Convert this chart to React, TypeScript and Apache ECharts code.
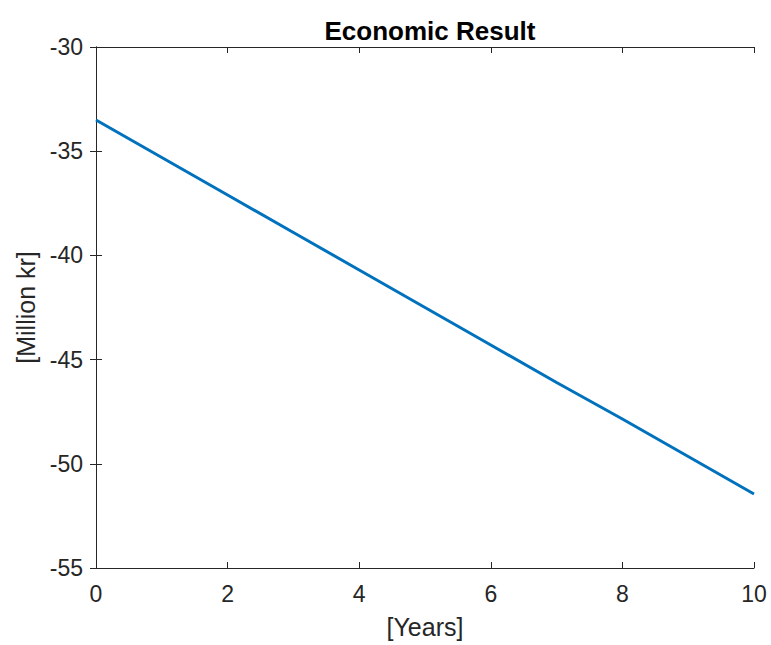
import React, { useEffect, useRef } from "react";
import * as echarts from "echarts";

// Yearly economic result, million kr
const years = [0, 1, 2, 3, 4, 5, 6, 7, 8, 9, 10];
const result = [-33.5, -35.3, -37.1, -38.9, -40.7, -42.5, -44.3, -46.1, -47.85, -49.65, -51.45];
const xTicks = [0, 2, 4, 6, 8, 10];
const yTicks = [-55, -50, -45, -40, -35, -30];

const AXIS_COLOR = "#262626";
const FONT = "Helvetica, Arial, 'Liberation Sans', sans-serif";

export default function App() {
  const ref = useRef<HTMLDivElement>(null);

  useEffect(() => {
    if (!ref.current) return;
    const chart = echarts.init(ref.current, null, { renderer: "svg" });
    const axisLabel = { color: AXIS_COLOR, fontSize: 23, fontFamily: FONT };
    const nameStyle = { color: AXIS_COLOR, fontSize: 25, fontFamily: FONT };
    const baseX = {
      type: "value" as const,
      min: xTicks[0],
      max: xTicks[xTicks.length - 1],
      interval: 2,
      axisLine: { show: true, lineStyle: { color: AXIS_COLOR, width: 1 } },
      axisTick: { show: true, inside: true, length: 6, lineStyle: { color: AXIS_COLOR } },
      splitLine: { show: false },
    };
    const baseY = {
      type: "value" as const,
      min: yTicks[0],
      max: yTicks[yTicks.length - 1],
      interval: 5,
      axisLine: { show: true, lineStyle: { color: AXIS_COLOR, width: 1 } },
      axisTick: { show: true, inside: true, length: 6, lineStyle: { color: AXIS_COLOR } },
      splitLine: { show: false },
    };
    chart.setOption({
      animation: false,
      backgroundColor: "#ffffff",
      title: {
        text: "Economic Result",
        left: 425,
        top: 13,
        textAlign: "center",
        textStyle: { fontSize: 26, fontWeight: "bold", color: "#000000", fontFamily: FONT },
      },
      grid: { left: 96, right: 17, top: 47, bottom: 77 },
      xAxis: [
        {
          ...baseX,
          position: "bottom",
          axisLabel: { ...axisLabel, margin: 14 },
          name: "[Years]",
          nameLocation: "middle",
          nameGap: 46,
          nameTextStyle: nameStyle,
        },
        { ...baseX, position: "top", axisLabel: { show: false } },
      ],
      yAxis: [
        {
          ...baseY,
          position: "left",
          axisLabel: { ...axisLabel, margin: 13 },
          name: "[Million kr]",
          nameLocation: "middle",
          nameGap: 58,
          nameTextStyle: nameStyle,
        },
        { ...baseY, position: "right", axisLabel: { show: false } },
      ],
      series: [
        {
          type: "line",
          xAxisIndex: 0,
          yAxisIndex: 0,
          data: years.map((y, i) => [y, result[i]]),
          showSymbol: false,
          lineStyle: { color: "#0072BD", width: 3 },
        },
      ],
    });
    return () => chart.dispose();
  }, []);

  return (
    <div
      ref={ref}
      style={{ position: "fixed", left: 0, top: 0, width: 771, height: 645, background: "#fff" }}
    />
  );
}
